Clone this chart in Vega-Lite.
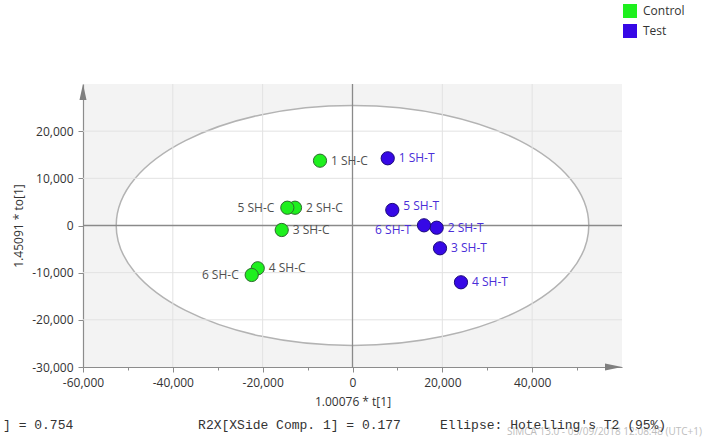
{
  "$schema": "https://vega.github.io/schema/vega-lite/v6.json",
  "width": 539,
  "height": 283,
  "autosize": {"type": "none"},
  "padding": {"left": 83, "top": 84, "right": 81, "bottom": 74},
  "background": "white",
  "config": {
    "view": {"fill": "#f3f3f3", "stroke": null},
    "font": "Open Sans",
    "axis": {
      "grid": false,
      "domainColor": "#8c8c8c",
      "domainWidth": 1.2,
      "tickColor": "#8c8c8c",
      "labelColor": "#333333",
      "labelFont": "Open Sans",
      "labelFontSize": 12,
      "labelOverlap": false,
      "labelSeparation": -1000,
      "labelBound": false,
      "labelFlush": false,
      "titleFont": "Open Sans",
      "titleFontSize": 12,
      "titleFontWeight": "normal",
      "titleColor": "#333333"
    }
  },
  "datasets": {
    "scores": [
      {"name": "1 SH-C", "group": "Control", "t1": -7235, "to1": 13740},
      {"name": "2 SH-C", "group": "Control", "t1": -12800, "to1": 3770},
      {"name": "3 SH-C", "group": "Control", "t1": -15760, "to1": -950},
      {"name": "4 SH-C", "group": "Control", "t1": -21100, "to1": -9070},
      {"name": "5 SH-C", "group": "Control", "t1": -14510, "to1": 3770},
      {"name": "6 SH-C", "group": "Control", "t1": -22440, "to1": -10490},
      {"name": "1 SH-T", "group": "Test", "t1": 7840, "to1": 14250},
      {"name": "2 SH-T", "group": "Test", "t1": 18740, "to1": -470},
      {"name": "3 SH-T", "group": "Test", "t1": 19480, "to1": -4830},
      {"name": "4 SH-T", "group": "Test", "t1": 24150, "to1": -12040},
      {"name": "5 SH-T", "group": "Test", "t1": 8860, "to1": 3290},
      {"name": "6 SH-T", "group": "Test", "t1": 15920, "to1": 40}
    ],
    "ellipse": [{"name": "Hotelling's T2 (95%)", "cx": 0, "cy": 0}],
    "gridX": [{"v": -40000}, {"v": -20000}, {"v": 0}, {"v": 20000}, {"v": 40000}],
    "gridY": [{"v": -20000}, {"v": -10000}, {"v": 0}, {"v": 10000}, {"v": 20000}],
    "footer": [{"text": "] = 0.754\u00a0\u00a0\u00a0\u00a0\u00a0\u00a0\u00a0\u00a0\u00a0\u00a0\u00a0\u00a0\u00a0\u00a0\u00a0\u00a0R2X[XSide Comp. 1] = 0.177\u00a0\u00a0\u00a0\u00a0\u00a0Ellipse: Hotelling's T2 (95%)"}],
    "stamp": [{"text": "SIMCA 13.0 - 05/09/2018 12:08:48 (UTC+1)"}]
  },
  "layer": [
    {
      "data": {"name": "ellipse"},
      "mark": {
        "type": "point",
        "shape": "M 1 0 C 1 0.2806 0.5523 0.508 0 0.508 C -0.5523 0.508 -1 0.2806 -1 0 C -1 -0.2806 -0.5523 -0.508 0 -0.508 C 0.5523 -0.508 1 -0.2806 1 0 Z",
        "size": 223350,
        "filled": true,
        "fill": "white",
        "fillOpacity": 1,
        "stroke": "#b3b3b3",
        "strokeWidth": 1.5,
        "opacity": 1
      },
      "encoding": {
        "x": {
          "field": "cx",
          "type": "quantitative",
          "scale": {"domain": [-60000, 60000], "nice": false, "zero": false},
          "axis": {
            "title": "1.00076 * t[1]",
            "values": [-60000, -55000, -50000, -45000, -40000, -35000, -30000, -25000, -20000, -15000, -10000, -5000, 0, 5000, 10000, 15000, 20000, 25000, 30000, 35000, 40000, 45000, 50000, 55000],
            "labelExpr": "datum.value % 20000 === 0 ? replace(format(datum.value, ','), '\u2212', '-') : ''",
            "tickSize": {"condition": {"test": "datum.value % 20000 === 0", "value": 5}, "value": 3},
            "labelOverlap": false,
            "labelPadding": 5,
            "titlePadding": 8
          }
        },
        "y": {
          "field": "cy",
          "type": "quantitative",
          "scale": {"domain": [-30000, 30000], "nice": false, "zero": false},
          "axis": {
            "title": "1.45091 * to[1]",
            "values": [-30000, -20000, -10000, 0, 10000, 20000],
            "labelExpr": "replace(format(datum.value, ','), '\u2212', '-')",
            "tickSize": 5,
            "labelOverlap": false,
            "labelPadding": 5,
            "titlePadding": 6
          }
        }
      }
    },
    {
      "data": {"name": "gridX"},
      "transform": [{"filter": "datum.v !== 0"}],
      "mark": {"type": "rule", "color": "#e2e2e2", "strokeWidth": 1},
      "encoding": {"x": {"field": "v", "type": "quantitative"}}
    },
    {
      "data": {"name": "gridY"},
      "transform": [{"filter": "datum.v !== 0"}],
      "mark": {"type": "rule", "color": "#e2e2e2", "strokeWidth": 1},
      "encoding": {"y": {"field": "v", "type": "quantitative"}}
    },
    {
      "data": {"name": "gridX"},
      "transform": [{"filter": "datum.v === 0"}],
      "mark": {"type": "rule", "color": "#8a8a8a", "strokeWidth": 1.3},
      "encoding": {"x": {"field": "v", "type": "quantitative"}}
    },
    {
      "data": {"name": "gridY"},
      "transform": [{"filter": "datum.v === 0"}],
      "mark": {"type": "rule", "color": "#8a8a8a", "strokeWidth": 1.3},
      "encoding": {"y": {"field": "v", "type": "quantitative"}}
    },
    {
      "data": {"name": "ellipse"},
      "mark": {"type": "point", "shape": "M 0 0 L 0.22 1 L -0.22 1 Z", "size": 1024, "filled": true, "color": "#7f7f7f", "opacity": 1},
      "encoding": {"x": {"datum": -60000, "type": "quantitative"}, "y": {"datum": 30000, "type": "quantitative"}}
    },
    {
      "data": {"name": "ellipse"},
      "mark": {"type": "point", "shape": "M 0 0 L -1 -0.21 L -1 0.21 Z", "size": 1156, "filled": true, "color": "#7f7f7f", "opacity": 1},
      "encoding": {"x": {"datum": 60000, "type": "quantitative"}, "y": {"datum": -30000, "type": "quantitative"}}
    },
    {
      "data": {"name": "scores"},
      "mark": {"type": "point", "shape": "circle", "size": 175, "filled": true, "opacity": 1, "strokeWidth": 1},
      "encoding": {
        "x": {"field": "t1", "type": "quantitative"},
        "y": {"field": "to1", "type": "quantitative"},
        "fill": {
          "field": "group",
          "type": "nominal",
          "scale": {"domain": ["Control", "Test"], "range": ["#1ef01e", "#3608e6"]},
          "legend": {
            "title": null,
            "orient": "none",
            "legendX": 540,
            "legendY": -80,
            "symbolType": "square",
            "symbolSize": 196,
            "symbolStrokeWidth": 0,
            "symbolOpacity": 1,
            "labelFont": "Open Sans",
            "labelFontSize": 12,
            "labelColor": "#333333",
            "labelOffset": 6,
            "rowPadding": 6
          }
        },
        "stroke": {
          "field": "group",
          "type": "nominal",
          "scale": {"domain": ["Control", "Test"], "range": ["#2f6a2f", "#1c0a7a"]},
          "legend": null
        }
      }
    },
    {
      "data": {"name": "scores"},
      "transform": [{"filter": "indexof(['5 SH-C', '6 SH-C', '5 SH-T', '6 SH-T'], datum.name) < 0"}],
      "mark": {"type": "text", "align": "left", "baseline": "middle", "dx": 11, "fontSize": 12, "font": "Open Sans"},
      "encoding": {
        "x": {"field": "t1", "type": "quantitative"},
        "y": {"field": "to1", "type": "quantitative"},
        "text": {"field": "name"},
        "color": {"field": "group", "type": "nominal", "scale": {"domain": ["Control", "Test"], "range": ["#505050", "#4a2ed8"]}, "legend": null}
      }
    },
    {
      "data": {"name": "scores"},
      "transform": [{"filter": "datum.name === '5 SH-T'"}],
      "mark": {"type": "text", "align": "left", "baseline": "middle", "dx": 11, "dy": -4, "fontSize": 12, "font": "Open Sans"},
      "encoding": {
        "x": {"field": "t1", "type": "quantitative"},
        "y": {"field": "to1", "type": "quantitative"},
        "text": {"field": "name"},
        "color": {"field": "group", "type": "nominal", "legend": null}
      }
    },
    {
      "data": {"name": "scores"},
      "transform": [{"filter": "datum.name === '5 SH-C' || datum.name === '6 SH-C'"}],
      "mark": {"type": "text", "align": "right", "baseline": "middle", "dx": -13, "fontSize": 12, "font": "Open Sans"},
      "encoding": {
        "x": {"field": "t1", "type": "quantitative"},
        "y": {"field": "to1", "type": "quantitative"},
        "text": {"field": "name"},
        "color": {"field": "group", "type": "nominal", "legend": null}
      }
    },
    {
      "data": {"name": "scores"},
      "transform": [{"filter": "datum.name === '6 SH-T'"}],
      "mark": {"type": "text", "align": "right", "baseline": "middle", "dx": -13, "dy": 5, "fontSize": 12, "font": "Open Sans"},
      "encoding": {
        "x": {"field": "t1", "type": "quantitative"},
        "y": {"field": "to1", "type": "quantitative"},
        "text": {"field": "name"},
        "color": {"field": "group", "type": "nominal", "legend": null}
      }
    },
    {
      "data": {"name": "stamp"},
      "mark": {"type": "text", "align": "right", "baseline": "middle", "fontSize": 10, "font": "Open Sans", "color": "#bdbdbd"},
      "encoding": {
        "text": {"field": "text"},
        "x": {"datum": 77800, "type": "quantitative"},
        "y": {"datum": -43780, "type": "quantitative"}
      }
    },
    {
      "data": {"name": "footer"},
      "mark": {"type": "text", "align": "left", "baseline": "middle", "fontSize": 13, "font": "Liberation Mono", "color": "#333333"},
      "encoding": {
        "text": {"field": "text"},
        "x": {"datum": -77800, "type": "quantitative"},
        "y": {"datum": -42300, "type": "quantitative"}
      }
    }
  ]
}
